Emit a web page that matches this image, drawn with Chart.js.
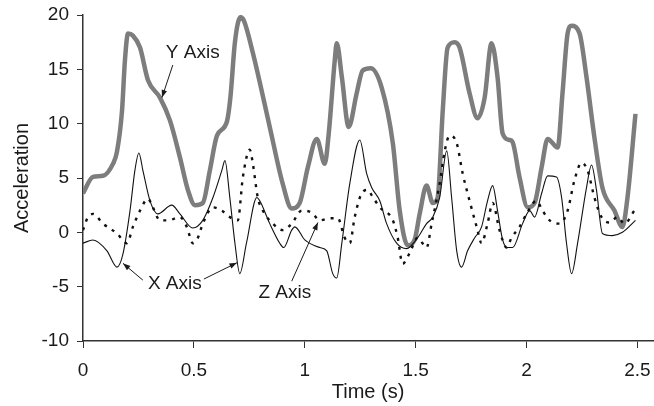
<!DOCTYPE html>
<html>
<head>
<meta charset="utf-8">
<script src="https://cdn.jsdelivr.net/npm/chart.js@4/dist/chart.umd.min.js"></script>
<style>
  html, body { margin: 0; padding: 0; background: #fff; }
  #wrap { width: 654px; height: 406px; }
</style>
</head>
<body>
<div id="wrap"><canvas id="accelChart"></canvas></div>
<script>
const xTicks = [0, 0.5, 1, 1.5, 2, 2.5];
const yTicks = [-10, -5, 0, 5, 10, 15, 20];

// Y axis (thick grey)
const yAxisTime = [0, 0.045, 0.09, 0.135, 0.153, 0.176, 0.189, 0.203, 0.225, 0.257, 0.293, 0.347, 0.392, 0.437, 0.473, 0.505, 0.54, 0.572, 0.604, 0.649, 0.665, 0.685, 0.71, 0.725, 0.766, 0.842, 0.9, 0.941, 0.977, 1.014, 1.054, 1.09, 1.108, 1.135, 1.144, 1.167, 1.198, 1.234, 1.261, 1.297, 1.347, 1.397, 1.428, 1.464, 1.495, 1.518, 1.549, 1.577, 1.599, 1.622, 1.644, 1.676, 1.698, 1.743, 1.779, 1.811, 1.842, 1.869, 1.892, 1.923, 1.937, 1.968, 2.005, 2.036, 2.068, 2.095, 2.14, 2.162, 2.185, 2.203, 2.239, 2.27, 2.306, 2.342, 2.396, 2.432, 2.455, 2.491];
const yAxisAccel = [3.6, 5.1, 5.2, 6.3, 7.4, 11.2, 15.8, 18.3, 18.1, 17.0, 14.0, 12.4, 10.3, 6.9, 3.9, 2.5, 2.7, 5.7, 8.9, 10.2, 12.5, 17.5, 19.8, 19.5, 16.5, 9.7, 4.5, 2.2, 2.7, 6.0, 8.6, 6.3, 9.1, 15.8, 17.4, 14.3, 9.7, 12.8, 14.9, 15.1, 13.3, 8.2, 2.0, -1.2, -0.7, 1.7, 4.3, 2.7, 3.2, 11.2, 17.0, 17.5, 17.0, 12.8, 10.5, 12.4, 17.4, 14.3, 9.1, 8.5, 8.3, 5.1, 2.3, 2.7, 6.0, 8.6, 7.8, 12.8, 18.3, 19.0, 18.3, 14.3, 8.7, 4.1, 2.0, 0.5, 3.2, 10.9];

// X axis (thin solid)
const xAxisTime = [0, 0.045, 0.108, 0.153, 0.18, 0.212, 0.234, 0.252, 0.27, 0.302, 0.338, 0.4, 0.437, 0.495, 0.54, 0.586, 0.626, 0.64, 0.662, 0.685, 0.707, 0.737, 0.784, 0.797, 0.842, 0.887, 0.905, 0.941, 0.955, 1.0, 1.068, 1.099, 1.126, 1.144, 1.167, 1.203, 1.248, 1.279, 1.302, 1.338, 1.369, 1.414, 1.459, 1.509, 1.549, 1.577, 1.608, 1.64, 1.662, 1.685, 1.707, 1.734, 1.766, 1.797, 1.824, 1.847, 1.869, 1.892, 1.914, 1.937, 1.982, 2.014, 2.036, 2.068, 2.095, 2.135, 2.158, 2.18, 2.203, 2.23, 2.27, 2.293, 2.315, 2.342, 2.387, 2.432, 2.491];
const xAxisAccel = [-1.0, -0.7, -1.7, -3.2, -2.0, 2.0, 5.7, 7.3, 5.7, 2.9, 1.7, 2.5, 1.7, 0.4, 1.1, 3.2, 5.7, 6.6, 3.2, -1.0, -3.8, -1.0, 3.2, 2.9, 0.8, -1.0, -1.4, 0.2, 0.5, -0.7, -1.4, -1.7, -3.8, -4.2, -1.0, 4.5, 8.5, 5.4, 4.1, 2.9, 0.8, -1.0, -1.5, -0.5, 0.8, 1.4, 3.2, 7.5, 3.2, -1.7, -3.2, -1.7, -0.5, 0.5, 2.9, 4.3, 2.0, -0.7, -1.4, -1.4, 0.8, 2.0, 1.4, 3.6, 5.2, 5.1, 3.2, -1.0, -3.8, -1.0, 4.1, 6.2, 3.9, -0.1, -0.3, 0.0, 1.1];

// Z axis (dotted)
const zAxisTime = [0, 0.02, 0.045, 0.09, 0.153, 0.198, 0.225, 0.257, 0.293, 0.315, 0.347, 0.383, 0.437, 0.468, 0.495, 0.518, 0.54, 0.586, 0.626, 0.662, 0.698, 0.721, 0.752, 0.766, 0.788, 0.811, 0.856, 0.901, 0.941, 0.986, 1.032, 1.068, 1.113, 1.149, 1.18, 1.203, 1.225, 1.257, 1.284, 1.302, 1.338, 1.397, 1.419, 1.441, 1.473, 1.509, 1.549, 1.572, 1.608, 1.631, 1.653, 1.685, 1.712, 1.743, 1.775, 1.797, 1.824, 1.847, 1.878, 1.91, 1.932, 1.968, 2.0, 2.045, 2.072, 2.104, 2.149, 2.185, 2.216, 2.248, 2.275, 2.306, 2.338, 2.374, 2.41, 2.441, 2.486];
const zAxisAccel = [0.2, 1.3, 1.7, 0.8, -0.1, -1.0, 0.5, 2.0, 3.1, 2.3, 1.1, 1.1, 1.4, 0.5, -1.0, -0.5, 0.8, 2.3, 2.0, 1.4, 1.1, 5.1, 7.6, 6.3, 3.2, 2.0, 0.8, 0.2, 0.8, 2.0, 1.8, 1.1, 1.3, 1.3, -0.5, -1.0, 1.4, 3.6, 3.9, 3.4, 2.3, 1.1, -0.5, -2.9, -1.9, -0.5, -1.4, 0.8, 4.5, 7.5, 8.9, 8.2, 5.4, 2.9, 0.5, -1.0, 0.8, 2.7, 0.2, -1.4, -0.5, 0.5, 1.7, 2.9, 2.0, 1.1, 0.8, 2.0, 4.8, 6.4, 5.7, 3.2, 1.4, 0.9, 1.4, 0.8, 2.0];

// callout labels, in data units: [text, t, accel]
const callouts = [
  ["Y Axis", 0.495, 16.5],
  ["X Axis", 0.414, -4.7],
  ["Z Axis", 0.91, -5.6]
];
// arrows: [fromT, fromAccel, toT, toAccel]
const arrows = [
  [0.405, 15.4, 0.356, 12.4],
  [0.27, -4.4, 0.18, -2.85],
  [0.545, -4.3, 0.694, -2.8],
  [0.941, -4.5, 1.059, 0.9]
];

const font = '"Liberation Sans", Arial, sans-serif';
const ink = "#1a1a1a";

function points(times, values) {
  return times.map((t, i) => ({ x: t, y: values[i] }));
}

const calloutPlugin = {
  id: "callouts",
  afterDatasetsDraw(chart) {
    const { ctx, scales } = chart;
    const sx = scales.x;
    const sy = scales.y;
    ctx.save();
    ctx.fillStyle = ink;
    ctx.strokeStyle = ink;
    ctx.lineWidth = 1;
    ctx.font = `19px ${font}`;
    ctx.textAlign = "center";
    ctx.textBaseline = "middle";
    callouts.forEach(([text, t, v]) => {
      ctx.fillText(text, sx.getPixelForValue(t), sy.getPixelForValue(v));
    });
    arrows.forEach(([t0, v0, t1, v1]) => {
      const x0 = sx.getPixelForValue(t0);
      const y0 = sy.getPixelForValue(v0);
      const x1 = sx.getPixelForValue(t1);
      const y1 = sy.getPixelForValue(v1);
      const ang = Math.atan2(y1 - y0, x1 - x0);
      ctx.beginPath();
      ctx.moveTo(x0, y0);
      ctx.lineTo(x1, y1);
      ctx.stroke();
      ctx.beginPath();
      ctx.moveTo(x1, y1);
      ctx.lineTo(x1 - 8 * Math.cos(ang - 0.35), y1 - 8 * Math.sin(ang - 0.35));
      ctx.lineTo(x1 - 8 * Math.cos(ang + 0.35), y1 - 8 * Math.sin(ang + 0.35));
      ctx.closePath();
      ctx.fill();
    });
    ctx.restore();
  }
};

new Chart(document.getElementById("accelChart"), {
  type: "line",
  data: {
    datasets: [
      {
        label: "X Axis",
        data: points(xAxisTime, xAxisAccel),
        borderColor: "#111",
        borderWidth: 1.1,
        pointRadius: 0,
        cubicInterpolationMode: "monotone"
      },
      {
        label: "Z Axis",
        data: points(zAxisTime, zAxisAccel),
        borderColor: "#111",
        borderWidth: 2.4,
        borderDash: [3, 6],
        pointRadius: 0,
        cubicInterpolationMode: "monotone"
      },
      {
        label: "Y Axis",
        data: points(yAxisTime, yAxisAccel),
        borderColor: "#7d7d7d",
        borderWidth: 4.5,
        pointRadius: 0,
        cubicInterpolationMode: "monotone"
      }
    ]
  },
  options: {
    responsive: true,
    maintainAspectRatio: false,
    animation: false,
    layout: { padding: { top: 15, right: 1, left: 10, bottom: 0 } },
    plugins: {
      legend: { display: false },
      tooltip: { enabled: false }
    },
    scales: {
      x: {
        type: "linear",
        min: 0,
        max: 2.57,
        afterBuildTicks(scale) {
          scale.ticks = xTicks.map((value) => ({ value }));
        },
        afterFit(scale) {
          scale.height = 65;
          scale.paddingLeft = 0;
          scale.paddingRight = 0;
        },
        grid: { drawOnChartArea: false, drawTicks: true, tickLength: 7, color: "#333" },
        border: { display: true, color: "#333", width: 1.5 },
        ticks: { color: ink, font: { family: font, size: 19 }, padding: 11, maxRotation: 0, callback: (value) => String(value) },
        title: { display: true, text: "Time (s)", color: ink, font: { family: font, size: 20 }, padding: { top: 0, bottom: 2 } }
      },
      y: {
        min: -10,
        max: 20,
        afterBuildTicks(scale) {
          scale.ticks = yTicks.map((value) => ({ value }));
        },
        afterFit(scale) {
          scale.width = 73;
          scale.paddingTop = 0;
          scale.paddingBottom = 0;
        },
        grid: { drawOnChartArea: false, drawTicks: true, tickLength: 6, color: "#333" },
        border: { display: true, color: "#333", width: 1.5 },
        ticks: { color: ink, font: { family: font, size: 19 }, padding: 8, callback: (value) => String(value) },
        title: { display: true, text: "Acceleration", color: ink, font: { family: font, size: 20 }, padding: { top: 0, bottom: 4 } }
      }
    }
  },
  plugins: [calloutPlugin]
});
</script>
</body>
</html>
